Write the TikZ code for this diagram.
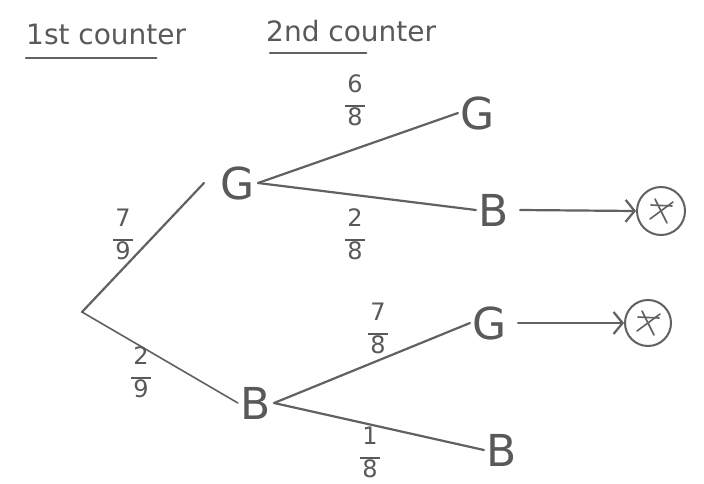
\documentclass[tikz,border=0pt]{standalone}
\usepackage{fontspec}
\setmainfont{DejaVu Sans}
\usetikzlibrary{arrows.meta}
\begin{document}
\begin{tikzpicture}[x=1pt,y=-1pt,
  ink/.style={draw=black!62, line width=2.2pt, line cap=round},
  thin ink/.style={draw=black!62, line width=1.6pt, line cap=round},
  letter/.style={text=black!65, font=\fontsize{44}{46}\selectfont, inner sep=0pt, outer sep=3pt},
  frac/.style={text=black!65, font=\fontsize{24}{24}\selectfont, inner sep=0pt, align=center},
  head/.style={text=black!65, font=\fontsize{28}{30}\selectfont, inner sep=0pt, anchor=base west},
  tip/.style={-{Straight Barb[length=9pt,width=22pt,line width=2.2pt]}}]
\useasboundingbox (0,0) rectangle (704,483);
\fill[white] (0,0) rectangle (704,483);
% headings
\node[head] (h1) at (26,44) {1st counter};
\node[head] (h2) at (266,41) {2nd counter};
\draw[ink] ([xshift=0pt,yshift=-13pt]h1.south west) -- ([xshift=-30pt,yshift=-13pt]h1.south east);
\draw[ink] ([xshift=4pt,yshift=-11pt]h2.south west) -- ([xshift=-70pt,yshift=-11pt]h2.south east);
% nodes
\coordinate (root) at (82,312);
\node[letter] (G1) at (238,183) {G};
\node[letter] (B1) at (256,403) {B};
\node[letter] (GG) at (478,113) {G};
\node[letter] (GB) at (494,210) {B};
\node[letter] (BG) at (490,323) {G};
\node[letter] (BB) at (502,450) {B};
% circled crosses
\node[draw=black!62, line width=2pt, circle, minimum size=48pt, inner sep=0pt] (X1) at (661,211) {};
\node[draw=black!62, line width=2pt, circle, minimum size=46pt, inner sep=0pt] (X2) at (648,323) {};
\foreach \c in {X1,X2}{
  \draw[thin ink] ([shift={(-11pt,-8pt)}]\c.center) -- ([shift={(12pt,9pt)}]\c.center);
  \draw[thin ink] ([shift={(6pt,-12pt)}]\c.center) -- ([shift={(-6pt,12pt)}]\c.center);
  \draw[thin ink] ([shift={(-10pt,6pt)}]\c.center) -- ([shift={(11pt,5pt)}]\c.center);
}
% branches
\draw[ink] (root) -- ([xshift=-14pt]G1.west);
\draw[thin ink] (root) -- (B1.west);
\draw[ink] (G1.east) -- (GG.west);
\draw[ink] (G1.east) -- (GB.west);
\draw[ink] (B1.east) -- (BG.west);
\draw[ink] (B1.east) -- (BB.west);
% arrows
\draw[ink,tip] ([xshift=8pt]GB.east) -- (X1.west);
\draw[ink,tip] ([xshift=8pt]BG.east) -- (X2.west);
% probabilities
\node[frac] (p1) at (123,234) {7\\[-9pt]\rule{20pt}{1.8pt}\\[-6pt]9};
\node[frac] (p2) at (141,372) {2\\[-9pt]\rule{20pt}{1.8pt}\\[-6pt]9};
\node[frac] (p3) at (355,100) {6\\[-9pt]\rule{20pt}{1.8pt}\\[-6pt]8};
\node[frac] (p4) at (355,234) {2\\[-9pt]\rule{20pt}{1.8pt}\\[-6pt]8};
\node[frac] (p5) at (378,328) {7\\[-9pt]\rule{20pt}{1.8pt}\\[-6pt]8};
\node[frac] (p6) at (370,452) {1\\[-9pt]\rule{20pt}{1.8pt}\\[-6pt]8};
\end{tikzpicture}
\end{document}
